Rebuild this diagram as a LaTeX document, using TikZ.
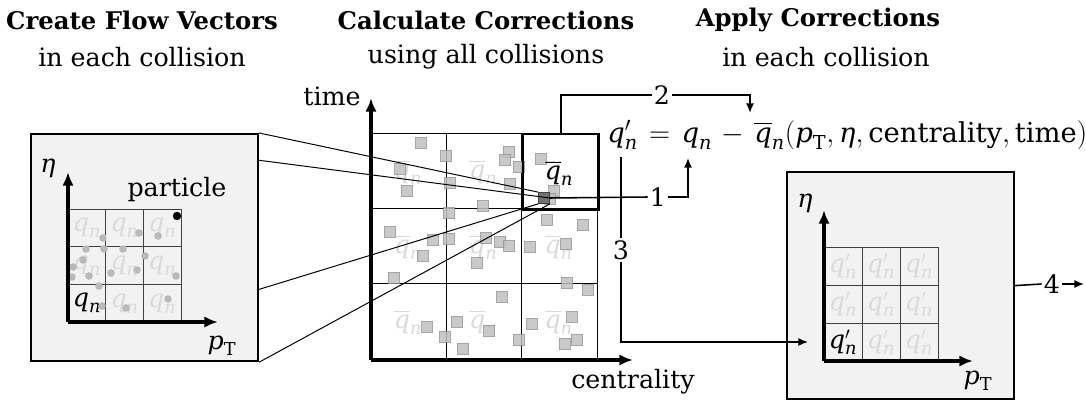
\documentclass[tikz,border=0pt]{standalone}
\usepackage{amsmath}
\usepackage{fontspec}
\setmainfont{DejaVu Serif}
\usetikzlibrary{arrows.meta,positioning,calc}
\definecolor{panelgray}{RGB}{242,242,242}
\definecolor{faint}{RGB}{218,218,218}
\definecolor{binfill}{RGB}{192,192,192}
\definecolor{binedge}{RGB}{150,150,150}
\definecolor{dotgray}{RGB}{185,185,185}
\newcommand{\vq}{\textit{q}}
\newcommand{\vn}{\textit{n}}
\newcommand{\vpt}{\textit{p}_{\text{T}}}
\newcommand{\veta}{\textit{η}}
\tikzset{
  >={Latex[length=2.4mm,width=2mm]},
  base font/.style={font=\fontsize{18}{21}\selectfont},
  panel/.style={draw,line width=1.5pt,fill=panelgray,minimum width=5.675cm,
    minimum height=5.675cm,anchor=north west,inner sep=0pt},
  axis/.style={-{Latex[length=3.4mm,width=2.8mm]},line width=2.2pt},
  gridline/.style={draw=black!75,line width=0.7pt},
  binline/.style={draw=black,line width=0.7pt},
  title/.style={font=\fontsize{17.3}{21}\selectfont\bfseries},
  faint label/.style={text=faint,inner sep=0pt},
  bin/.style={draw=binedge,fill=binfill,line width=0.7pt,minimum size=2.7mm,inner sep=0pt},
  hit/.style={bin,fill=black!55,draw=black!75},
  dot/.style={circle,fill=dotgray,inner sep=0pt,minimum size=1.9mm},
  flow/.style={line width=1.1pt},
  zoomline/.style={line width=0.7pt},
  step label/.style={inner sep=1.5pt},
}

\begin{document}
\begin{tikzpicture}[x=0.025cm,y=-0.025cm,base font]
  \useasboundingbox (0,0) rectangle (1086,401);
  % headings
  \node[title] (t1) at (142,20) {Create Flow Vectors};
  \node (s1) at (142,57) {in each collision};
  \node[title] (t2) at (486,20) {Calculate Corrections};
  \node (s2) at (486,57) {using all collisions};
  \node[title] (t3) at (818,20) {Apply Corrections};
  \node (s3) at (826,57) {in each collision};

  % left panel: one collision
  \node[panel] (left) at (30,133) {};
  \foreach \c in {0,1,2} \foreach \r in {0,1,2}
    \node[faint label] at (87+37.67*\c,228+37.67*\r) {$\vq_{\vn}$};
  \node[inner sep=0pt] (qcell) at (87,303) {$\vq_{\vn}$};
  \foreach \i in {0,...,3} {
    \draw[gridline] (68+37.67*\i,209) -- (68+37.67*\i,322);
    \draw[gridline] (68,209+37.67*\i) -- (181,209+37.67*\i);
  }
  \foreach \x/\y in {103/238,139/233,158/236,86/249,104/249,123/249,83/260,145/256,
      73/267,72/277,89/276,111/273,137/270,176/276,99/286,102/306,126/308,168/299}
    \node[dot] at (\x,\y) {};
  \node[circle,fill=black,inner sep=0pt,minimum size=2.1mm] (part) at (177,216) {};
  \node (partlab) at (177,190) {particle};
  \draw[axis] (68,322) -- (68,172);
  \draw[axis] (68,322) -- (218,322);
  \node (etaL) at (48,168) {$\veta$};
  \node (ptL) at (222,346) {$\vpt$};

  % middle panel: all collisions
  \foreach \c in {0,1,2} \foreach \r in {0,1,2}
    \node[faint label] at (408+75.33*\c,172+75.33*\r) {$\overline{\vq}_{\vn}$};
  \foreach \i in {0,...,3} {
    \draw[binline] (371+75.33*\i,133) -- (371+75.33*\i,360);
    \draw[binline] (371,133+75.33*\i) -- (597,133+75.33*\i);
  }
  \foreach \x/\y in {421/143,446/156,400/169,407/191,450/183,509/152,505/160,519/167,
      510/184,483/206,449/213,541/159,554/191,550/199,390/232,433/240,449/239,486/238,
      500/242,509/246,530/247,547/220,583/225,566/244,423/256,477/263,394/278,567/283,
      588/290,502/297,572/317,427/327,457/322,489/331,532/324,445/337,463/349,519/340,
      577/340,565/344}
    \node[bin,opacity=0.85] at (\x,\y) {};
  \node[draw,line width=1.6pt,minimum size=1.883cm,anchor=north west,inner sep=0pt] (sel) at (522,133) {};
  \node[inner sep=0pt] (qbar) at (559,173) {$\overline{\vq}_{\vn}$};
  \node[hit] (hit) at (544,198) {};
  \draw[axis] (371,360) -- (371,98);
  \draw[axis] (371,360) -- (633,360);
  \node (timelab) at (332,96) {time};
  \node (centlab) at (633,382) {centrality};

  % zoom lines from the left panel
  \coordinate (l2) at (257,160);
  \coordinate (l3) at (257,290);
  \draw[zoomline] (left.north east) -- (hit.north west);
  \draw[zoomline] (l2) -- (hit.east);
  \draw[zoomline] (l3) -- (hit.south west);
  \draw[zoomline] (left.south east) -- (hit.south east);

  % correction formula
  \node[anchor=west,inner sep=0pt,font=\fontsize{19.5}{22}\selectfont] (eq) at (607,135)
    {$\vq'_{\vn} \mkern2mu=\mkern2mu \vq_{\vn} \mkern2mu-\mkern2mu \overline{\vq}_{\vn}(\vpt, \veta, \text{centrality}, \text{time})$};
  \coordinate (qin) at (688,158);
  \coordinate (qbartop) at (750,113);
  \coordinate (qout) at (621,157);

  % right panel: corrected collision
  \node[panel] (right) at (786,171) {};
  \foreach \c in {0,1,2} \foreach \r in {0,1,2}
    \node[faint label] at (843+38*\c,266+38*\r) {$\vq'_{\vn}$};
  \node[inner sep=0pt] (qcorr) at (843,342) {$\vq'_{\vn}$};
  \foreach \i in {0,...,3} {
    \draw[gridline] (824+38*\i,247) -- (824+38*\i,361);
    \draw[gridline] (824,247+38*\i) -- (938,247+38*\i);
  }
  \draw[axis] (824,361) -- (824,210);
  \draw[axis] (824,361) -- (973,361);
  \node (etaR) at (805,203) {$\veta$};
  \node (ptR) at (978,381) {$\vpt$};

  % steps
  \node[step label] (one) at (658,197) {1};
  \draw[flow] (hit.east) -- (one.west);
  \draw[flow,->] (one.east) -| (qin);
  \node[step label] (two) at (662,95) {2};
  \draw[flow] (sel.north) |- (two.west);
  \draw[flow,->] (two.east) -| (qbartop);
  \node[step label] (three) at (621,250) {3};
  \draw[flow] (qout) -- (three.north);
  \coordinate (rin) at (808,342);
  \draw[flow,->] (three.south) |- (rin);
  \node[step label] (four) at (1052,284) {4};
  \coordinate (outend) at (1084,284);
  \draw[flow] (right.east) -- (four.west);
  \draw[flow,->] (four.east) -- (outend);
\end{tikzpicture}
\end{document}
